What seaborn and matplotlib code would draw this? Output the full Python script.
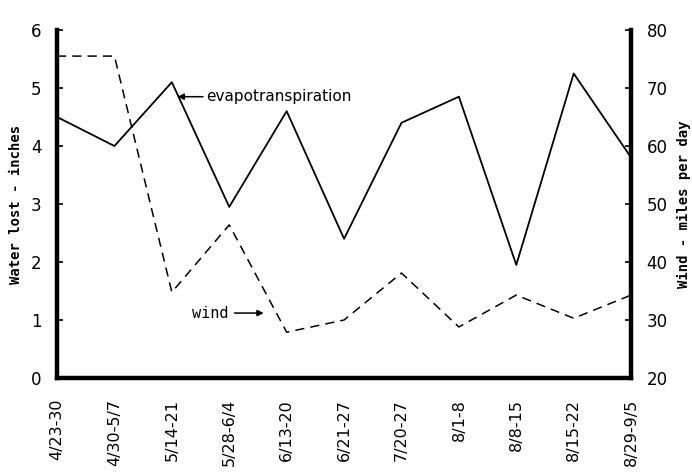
import matplotlib
matplotlib.use("Agg")
import matplotlib.pyplot as plt
import seaborn as sns
import pandas as pd

weeks = ["4/23-30", "4/30-5/7", "5/14-21", "5/28-6/4", "6/13-20", "6/21-27",
         "7/20-27", "8/1-8", "8/8-15", "8/15-22", "8/29-9/5"]
evapotranspiration = [4.5, 4.0, 5.1, 2.95, 4.6, 2.4, 4.4, 4.85, 1.95, 5.25, 3.8]
wind_miles = [75.5, 75.5, 34.8, 46.4, 27.9, 30.0, 38.1, 28.8, 34.3, 30.3, 34.3]

df = pd.DataFrame({"week": weeks, "et": evapotranspiration, "wind": wind_miles})

sns.set_theme(style="white")
plt.rcParams["font.family"] = ["DejaVu Sans"]
plt.rcParams["text.color"] = "black"
plt.rcParams["xtick.color"] = "black"
plt.rcParams["ytick.color"] = "black"
plt.rcParams["axes.labelcolor"] = "black"

fig = plt.figure(figsize=(6.92, 4.73), dpi=100)
ax = fig.add_axes([0.0824, 0.2008, 0.8296, 0.7358])

sns.lineplot(data=df, x="week", y="et", ax=ax, color="black", lw=1.3, sort=False)
ax2 = ax.twinx()
sns.lineplot(data=df, x="week", y="wind", ax=ax2, color="black", lw=1.1,
             linestyle=(0, (6, 4)), sort=False)

ax.set_xlim(0, len(weeks) - 1)
ax.set_ylim(0, 6)
ax2.set_ylim(20, 80)
ax.set_yticks(range(0, 7))
ax2.set_yticks(range(20, 81, 10))

for a in (ax, ax2):
    for side in ("left", "right", "bottom"):
        a.spines[side].set_linewidth(3.2)
        a.spines[side].set_color("black")
    a.spines["top"].set_visible(False)
ax2.spines["left"].set_visible(False)
ax2.spines["bottom"].set_visible(False)
ax.spines["right"].set_visible(False)

ax.tick_params(axis="x", direction="in", length=4, width=1.2, pad=15,
               labelsize=11.5, labelrotation=90)
ax.tick_params(axis="y", direction="in", length=4, width=1.2, pad=11, labelsize=12)
ax2.tick_params(axis="y", direction="in", length=4, width=1.2, pad=11, labelsize=12)
ax.set_xticks(range(len(weeks)))
ax.set_xticklabels(weeks, rotation=90, va="top")

mono = {"family": "DejaVu Sans Mono", "weight": "bold", "size": 10}
ax.set_xlabel("")
ax.set_ylabel("Water lost - inches", fontdict=mono, labelpad=6)
ax2.set_ylabel("Wind - miles per day", fontdict=mono, rotation=90, labelpad=7)

ax.annotate("evapotranspiration", xy=(2.1, 4.85), xytext=(2.6, 4.85),
            fontsize=11, va="center", ha="left",
            arrowprops=dict(arrowstyle="-|>", color="black", lw=1.1,
                            shrinkA=0, shrinkB=0, mutation_scale=9))
ax.annotate("wind", xy=(3.6, 1.12), xytext=(2.35, 1.12),
            fontsize=11, va="center", ha="left", family="DejaVu Sans Mono",
            arrowprops=dict(arrowstyle="-|>", color="black", lw=1.1,
                            shrinkA=2, shrinkB=0, mutation_scale=9))

ax.grid(False)
ax2.grid(False)
fig.savefig("out.png", dpi=100, facecolor="white")
